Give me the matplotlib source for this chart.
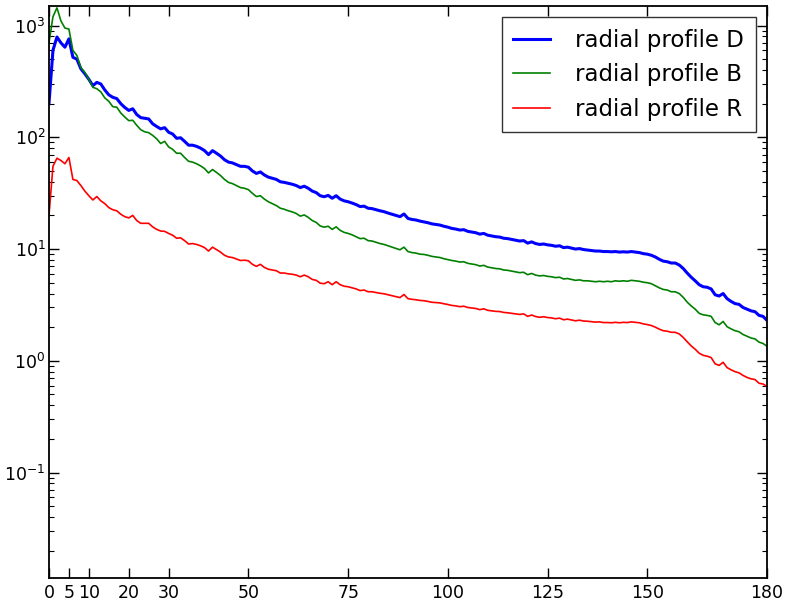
import numpy as np
import matplotlib
matplotlib.use("Agg")
import matplotlib.pyplot as plt

# radius in pixels, one sample per unit
radius = np.arange(0, 181)

profile_d = [
    200, 600, 790, 700, 640, 760, 520, 500, 410, 370,
    330, 290, 310, 300, 265, 240, 228, 222, 200, 185,
    174, 180, 160, 150, 148, 146, 132, 125, 119, 122,
    111, 107, 98, 99, 92, 85, 85, 83, 80, 76,
    70, 76, 72, 68, 63, 60, 59, 57, 55, 55,
    54, 50, 47.5, 49, 46, 44, 43, 42, 40, 39.5,
    38.7, 38, 37, 35.5, 36.5, 35, 33, 32, 30, 29.4,
    30.2, 28.5, 30, 28, 27, 26.5, 25.8, 25, 24, 24.2,
    23.2, 23, 22.5, 22, 21.6, 21, 20.5, 20, 19.5, 20.6,
    18.8, 18.4, 18.2, 17.8, 17.5, 17.2, 16.8, 16.6, 16.4, 16.0,
    15.7, 15.3, 15.1, 14.8, 14.9, 14.4, 14.2, 14.0, 13.6, 13.8,
    13.3, 13.1, 12.9, 12.8, 12.5, 12.4, 12.2, 12.0, 11.8, 11.9,
    11.3, 11.6, 11.2, 11.0, 11.1, 10.9, 10.8, 10.6, 10.7, 10.3,
    10.4, 10.2, 10.0, 10.1, 9.9, 9.8, 9.7, 9.6, 9.6, 9.5,
    9.5, 9.45, 9.5, 9.4, 9.45, 9.4, 9.5, 9.4, 9.3, 9.1,
    9.0, 8.8, 8.5, 8.1, 7.8, 7.7, 7.5, 7.5, 7.2, 6.7,
    6.1, 5.6, 5.2, 4.8, 4.6, 4.55, 4.4, 3.9, 3.8, 4.0,
    3.6, 3.4, 3.25, 3.2, 3.0, 2.9, 2.8, 2.75, 2.55, 2.5, 2.3,
]

profile_b = [
    700, 1200, 1440, 1100, 950, 930, 600, 540, 420, 380,
    330, 280, 272, 255, 225, 210, 188, 186, 165, 152,
    141, 142, 128, 117, 112, 110, 104, 97, 88, 92,
    82, 78, 72, 72, 66, 61, 60, 58, 55.5, 52.5,
    48, 51.5, 48.5, 45.5, 42, 39.5, 38.5, 37, 35.5, 35,
    34, 31.5, 29.5, 30, 28, 26.5, 25.5, 24.5, 23.2, 22.7,
    22, 21.5, 20.8, 19.7, 20.2, 19.2, 18, 17.3, 16.1, 15.7,
    16, 15, 15.8, 14.7, 14.1, 13.8, 13.4, 12.9, 12.4, 12.5,
    11.9, 11.8, 11.5, 11.2, 11.0, 10.7, 10.4, 10.1, 9.85, 10.4,
    9.5, 9.3, 9.2, 9.0, 8.95, 8.8, 8.6, 8.5, 8.4, 8.2,
    8.05, 7.9, 7.8, 7.65, 7.7, 7.45, 7.35, 7.25, 7.05, 7.15,
    6.9, 6.8, 6.7, 6.65, 6.5, 6.45, 6.35, 6.25, 6.15, 6.2,
    5.9, 6.05, 5.85, 5.75, 5.8, 5.7, 5.65, 5.55, 5.6, 5.4,
    5.45, 5.35, 5.25, 5.3, 5.2, 5.2, 5.15, 5.1, 5.15, 5.1,
    5.15, 5.1, 5.2, 5.15, 5.2, 5.15, 5.25, 5.2, 5.15, 5.05,
    5.0, 4.9, 4.7, 4.5, 4.35, 4.3, 4.15, 4.15, 4.0, 3.7,
    3.35, 3.1, 2.9, 2.66, 2.58, 2.55, 2.5, 2.2, 2.1, 2.25,
    2.02, 1.93, 1.86, 1.82, 1.72, 1.66, 1.6, 1.57, 1.47, 1.43, 1.35,
]

profile_r = [
    20, 55, 65, 62, 58, 66, 42, 41, 37, 33,
    30, 27.5, 29.5, 27, 25.5, 23.5, 22.5, 22, 20.5, 19.5,
    19, 20, 18, 17, 17, 17, 15.8, 15, 14.5, 14.4,
    13.8, 13.3, 12.5, 12.6, 11.9, 11.1, 11.2, 11, 10.7, 10.3,
    9.6, 10.4, 9.9, 9.4, 8.8, 8.5, 8.4, 8.15, 7.9, 7.95,
    7.85, 7.3, 7.0, 7.3, 6.85, 6.6, 6.5, 6.4, 6.1, 6.1,
    6.0, 5.95, 5.85, 5.65, 5.85, 5.65, 5.35, 5.25, 4.95, 4.9,
    5.1, 4.8, 5.1, 4.8, 4.65, 4.6, 4.5, 4.4, 4.25, 4.3,
    4.15, 4.15, 4.08, 4.02, 3.98, 3.9, 3.82, 3.75, 3.68, 3.92,
    3.6, 3.55, 3.52, 3.47, 3.45, 3.4, 3.34, 3.32, 3.3, 3.24,
    3.19, 3.13, 3.1, 3.05, 3.08, 3.0, 2.97, 2.94, 2.87, 2.92,
    2.83, 2.8, 2.77, 2.76, 2.71, 2.69, 2.66, 2.63, 2.6, 2.63,
    2.5, 2.57, 2.49, 2.45, 2.48, 2.44, 2.42, 2.38, 2.41, 2.33,
    2.36, 2.32, 2.28, 2.31, 2.27, 2.26, 2.24, 2.22, 2.23, 2.2,
    2.2, 2.19, 2.21, 2.19, 2.21, 2.2, 2.23, 2.21, 2.19, 2.14,
    2.11, 2.07, 2.0, 1.92, 1.86, 1.84, 1.8, 1.8, 1.74, 1.62,
    1.48, 1.36, 1.27, 1.17, 1.12, 1.1, 1.07, 0.94, 0.91, 0.97,
    0.87, 0.83, 0.8, 0.78, 0.74, 0.71, 0.69, 0.68, 0.63, 0.62, 0.59,
]

xticks = [0, 5, 10, 20, 30, 50, 75, 100, 125, 150, 180]

plt.rcParams["xtick.direction"] = "in"
plt.rcParams["ytick.direction"] = "in"
plt.rcParams["xtick.top"] = True
plt.rcParams["ytick.right"] = True

fig = plt.figure(figsize=(7.86, 6.03), dpi=100)
ax = fig.add_axes([0.0623, 0.0415, 0.9135, 0.9485])

ax.plot(radius, profile_d, color="#0000ff", lw=2.2, label="radial profile D")
ax.plot(radius, profile_b, color="#008000", lw=1.2, label="radial profile B")
ax.plot(radius, profile_r, color="#ff0000", lw=1.2, label="radial profile R")

ax.set_yscale("log")
ax.set_xlim(0, 180)
ax.set_ylim(0.0114, 1495)
ax.set_xticks(xticks)
ax.set_xticklabels([str(t) for t in xticks])
ax.tick_params(axis="both", which="major", length=7, width=1, labelsize=12.5, pad=4)
ax.tick_params(axis="y", which="major", pad=2.5)
ax.tick_params(axis="y", which="minor", length=3.5, width=0.8)
for s in ax.spines.values():
    s.set_linewidth(1.3)

leg = ax.legend(loc="upper right", fontsize=16.5, frameon=True, fancybox=False,
                handlelength=1.6, handletextpad=1.1, borderpad=0.5,
                labelspacing=0.5, borderaxespad=0.5)
leg.get_frame().set_edgecolor("black")
leg.get_frame().set_linewidth(1.0)

fig.savefig("out.png", dpi=100)
